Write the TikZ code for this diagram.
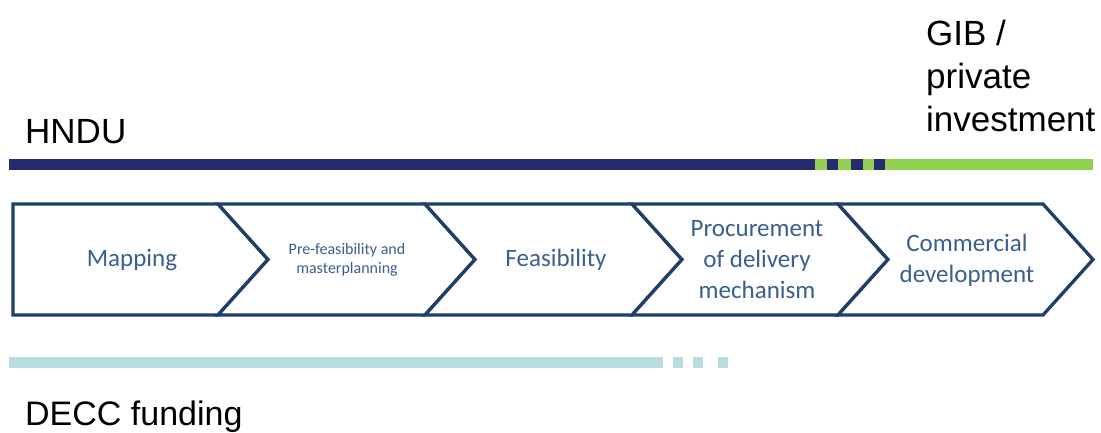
\documentclass[tikz,border=0pt]{standalone}
\usepackage{fontspec}
\setmainfont{Liberation Sans}
\newfontfamily\chevfont{Carlito}
\definecolor{navy}{HTML}{262A6E}
\definecolor{lgreen}{HTML}{92D050}
\definecolor{teal}{HTML}{B7DDE0}
\definecolor{chevline}{HTML}{1F3F6B}
\definecolor{chevtext}{HTML}{3A5F8F}
\begin{document}
\begin{tikzpicture}[x=1pt,y=-1pt,
  chev/.style={draw=chevline,line width=3.3pt,line join=miter,fill=white},
  chevlabel/.style={text=chevtext,align=center,inner sep=0pt,font=\chevfont\fontsize{25}{31}\selectfont},
  smalllabel/.style={text=chevtext,align=center,inner sep=0pt,font=\chevfont\fontsize{16}{19}\selectfont},
  biglabel/.style={text=black,inner sep=0pt,anchor=base west,font=\fontsize{35}{43}\selectfont}]
\useasboundingbox (0,0) rectangle (1101,432);
% top bar
\fill[navy] (9,159) rectangle (815,170);
\fill[lgreen] (815,159) rectangle (1093,170);
\fill[navy] (827,159) rectangle (838,170);
\fill[navy] (851,159) rectangle (863,170);
\fill[navy] (874,159) rectangle (885,170);
% bottom bar
\fill[teal] (9,357) rectangle (663,368);
\fill[teal] (673,357) rectangle (683,368);
\fill[teal] (693,357) rectangle (703,368);
\fill[teal] (718,357) rectangle (728,368);
% chevrons
\draw[chev] (13,204) -- (218,204) -- (268,259.5) -- (218,315) -- (13,315) -- cycle;
\draw[chev] (218,204) -- (425,204) -- (475,259.5) -- (425,315) -- (218,315) -- (268,259.5) -- cycle;
\draw[chev] (425,204) -- (632,204) -- (682,259.5) -- (632,315) -- (425,315) -- (475,259.5) -- cycle;
\draw[chev] (632,204) -- (838,204) -- (888,259.5) -- (838,315) -- (632,315) -- (682,259.5) -- cycle;
\draw[chev] (838,204) -- (1043,204) -- (1093,259.5) -- (1043,315) -- (838,315) -- (888,259.5) -- cycle;
% chevron labels
\node[chevlabel] (mapping) at (132,260) {Mapping};
\node[smalllabel] (prefeas) at (347,260) {Pre-feasibility and\\masterplanning};
\node[chevlabel] (feas) at (556,260) {Feasibility};
\node[chevlabel] (procure) at (757,260) {Procurement\\of delivery\\mechanism};
\node[chevlabel] (commercial) at (967,260) {Commercial\\development};
% side labels
\node[biglabel] (hndu) at (25,143) {HNDU};
\node[biglabel,font=\fontsize{34}{43}\selectfont] (decc) at (25,425) {DECC funding};
\node[biglabel] (gib1) at (926,45) {GIB /};
\node[biglabel] (gib2) at (926,88) {private};
\node[biglabel] (gib3) at (926,131) {investment};
\end{tikzpicture}
\end{document}
